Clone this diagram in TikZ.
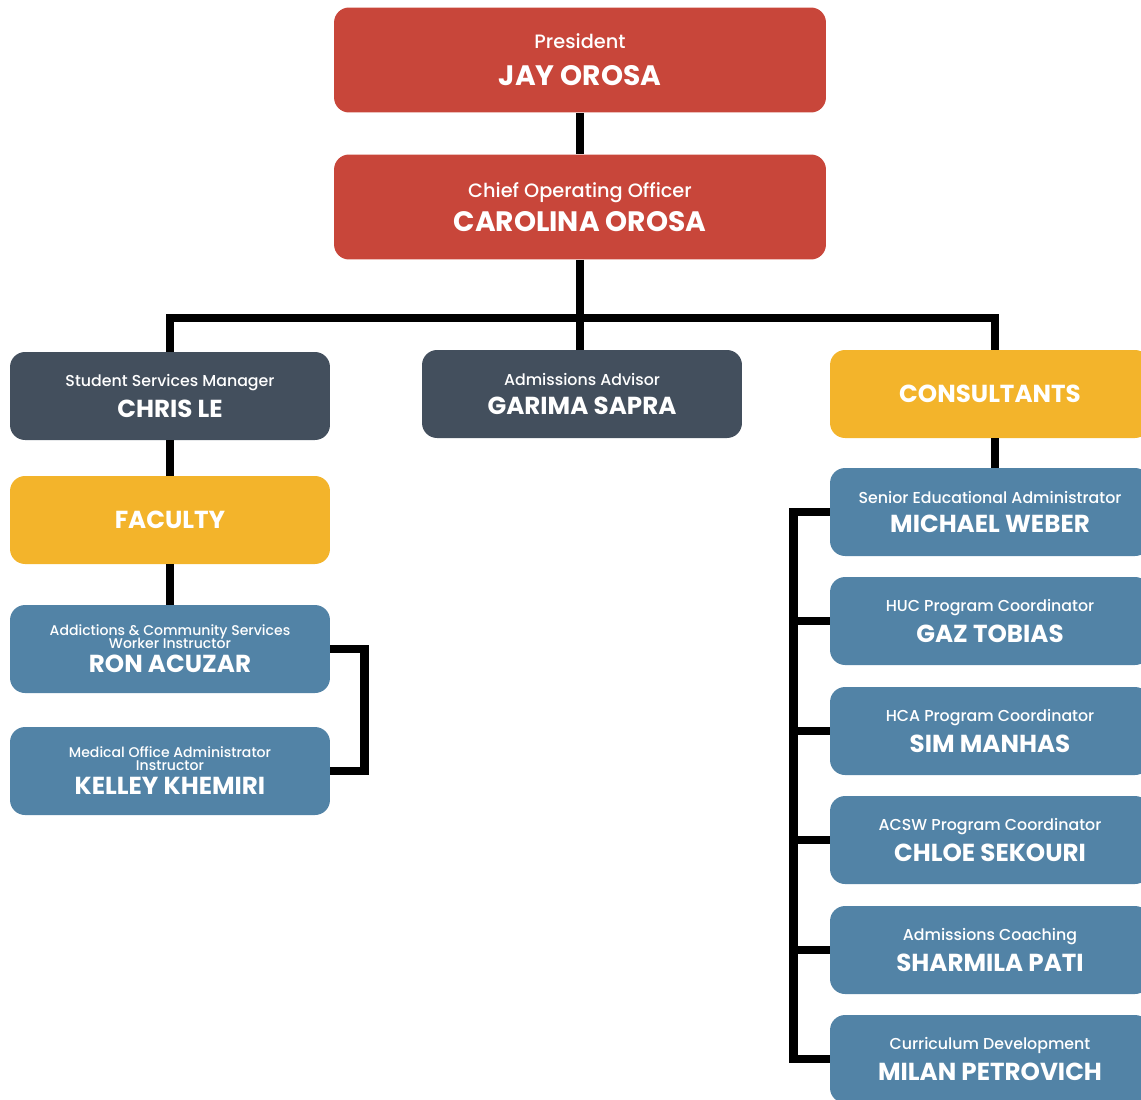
\documentclass[tikz,border=0pt]{standalone}
\usepackage{fontspec}
\setmainfont{Poppins}
\newfontfamily\rolefont{Poppins}[UprightFont=* Medium]
\usepackage{xcolor}
\usetikzlibrary{positioning,calc}

\definecolor{redbox}{HTML}{C8463A}
\definecolor{slatebox}{HTML}{434F5D}
\definecolor{goldbox}{HTML}{F3B42B}
\definecolor{bluebox}{HTML}{5283A6}

\tikzset{
  card/.style={rounded corners=0.3cm, text=white, align=center, inner sep=0pt,
    minimum width=6.4cm, minimum height=1.76cm},
  topcard/.style={card, fill=redbox, minimum width=9.84cm, minimum height=2.1cm},
  mgrcard/.style={card, fill=slatebox},
  groupcard/.style={card, fill=goldbox, font=\fontsize{14}{16}\selectfont\bfseries},
  staffcard/.style={card, fill=bluebox},
  link/.style={line width=5pt, black}
}
\newcommand{\roleline}[1]{{\rolefont\fontsize{9}{10}\selectfont #1}}
\newcommand{\roletwo}[1]{{\rolefont\fontsize{8}{6.5}\selectfont #1}}
\newcommand{\nameline}[1]{{\fontsize{14}{16}\selectfont\bfseries #1}}

\begin{document}
\begin{tikzpicture}[x=0.02cm, y=-0.02cm]
\useasboundingbox (0,0) rectangle (1141,1099);

% top of the chart
\node[topcard] (pres) at (580,60)
  {{\rolefont\fontsize{11}{12}\selectfont President}\\[9pt]{\fontsize{16}{18}\selectfont\bfseries JAY OROSA}};
\node[topcard] (coo) at (580,207)
  {{\rolefont\fontsize{11}{12}\selectfont Chief Operating Officer}\\[4pt]{\fontsize{16}{18}\selectfont\bfseries CAROLINA OROSA}};

% second level
\node[mgrcard] (chris) at (170,396) {\roleline{Student Services Manager}\\[4pt]\nameline{CHRIS LE}};
\node[mgrcard] (garima) at (582,394) {\roleline{Admissions Advisor}\\[4pt]\nameline{GARIMA SAPRA}};
\node[groupcard] (cons) at (990,394) {CONSULTANTS};

% faculty branch
\node[groupcard] (faculty) at (170,520) {FACULTY};
\node[staffcard] (ron) at (170,649)
  {\roletwo{Addictions \& Community Services}\\[-5pt]\roletwo{Worker Instructor}\\[2pt]\nameline{RON ACUZAR}};
\node[staffcard] (kelley) at (170,771)
  {\roletwo{Medical Office Administrator}\\[-5pt]\roletwo{Instructor}\\[2pt]\nameline{KELLEY KHEMIRI}};

% consultants branch
\node[staffcard] (weber) at (990,512) {\roleline{Senior Educational Administrator}\\[4pt]\nameline{MICHAEL WEBER}};
\node[staffcard] (gaz) at (990,621) {\roleline{HUC Program Coordinator}\\[4pt]\nameline{GAZ TOBIAS}};
\node[staffcard] (sim) at (990,731) {\roleline{HCA Program Coordinator}\\[4pt]\nameline{SIM MANHAS}};
\node[staffcard] (chloe) at (990,840) {\roleline{ACSW Program Coordinator}\\[4pt]\nameline{CHLOE SEKOURI}};
\node[staffcard] (sharmila) at (990,950) {\roleline{Admissions Coaching}\\[4pt]\nameline{SHARMILA PATI}};
\node[staffcard] (milan) at (990,1059) {\roleline{Curriculum Development}\\[4pt]\nameline{MILAN PETROVICH}};

% connectors
\coordinate (hub) at (580,318);
\coordinate (drop) at ([xshift=0.1cm]cons.north);
\draw[link] (pres.south) -- (coo.north);
\draw[link] (coo.south) -- (hub);
\draw[link] (chris.north) |- (hub) -| (drop);
\draw[link] (hub) -- (hub |- garima.north);
\draw[link] (chris.south) -- (faculty.north);
\draw[link] (faculty.south) -- (ron.north);
\draw[link] (ron.east) -- ++(34,0) |- (kelley.east);
\draw[link] ([xshift=0.1cm]cons.south) -- ([xshift=0.1cm]weber.north);
\draw[link] (weber.west) -- ++(-36,0) |- (milan.west);
\foreach \n in {gaz,sim,chloe,sharmila}
  \draw[link] (\n.west) -- ++(-36,0);
\end{tikzpicture}
\end{document}
